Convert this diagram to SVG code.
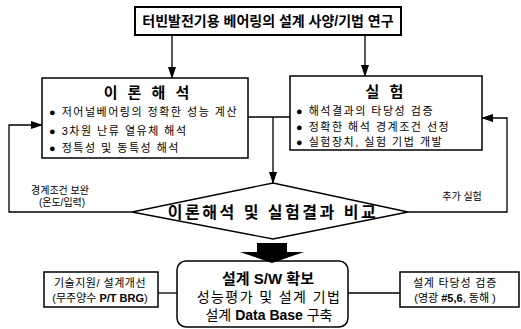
<svg xmlns="http://www.w3.org/2000/svg" width="521" height="329" viewBox="0 0 521 329">
<style>
text{font-family:"Liberation Sans","Noto Sans CJK KR",sans-serif;fill:#000;text-anchor:middle}
.box{fill:#fff;stroke:#000;stroke-width:1.5}
.t{font-size:11px;text-anchor:start;letter-spacing:1.5px}
.h{font-size:15px;font-weight:bold;letter-spacing:3px}
.ln{fill:none;stroke:#000;stroke-width:1.3}
.s{font-size:10px}
.b{font-weight:bold}
</style>
<defs>
<marker id="ah" markerWidth="12" markerHeight="8" refX="11" refY="4" orient="auto" markerUnits="userSpaceOnUse">
<path d="M0,0 L12,4 L0,8 Z" fill="#000"/>
</marker>
</defs>
<g id="top">
<rect x="135" y="7" width="266" height="28" fill="#fff" stroke="#000" stroke-width="2"/>
<text x="268" y="26" font-size="14" font-weight="bold">터빈발전기용 베어링의 설계 사양/기법 연구</text>
</g>
<g id="theory">
<rect class="box" x="42" y="78" width="206" height="80"/>
<text class="h" x="148" y="98">이 론 해 석</text>
<text class="t" x="49" y="116">● 저어널베어링의  정확한 성능 계산</text>
<text class="t" x="49" y="135">● 3차원 난류 열유체 해석</text>
<text class="t" x="49" y="152">● 정특성 및 동특성 해석</text>
</g>
<g id="experiment">
<rect class="box" x="290" y="76" width="192" height="74"/>
<text class="h" x="386" y="97">실 험</text>
<text class="t" x="296" y="115">● 해석결과의 타당성 검증</text>
<text class="t" x="296" y="131">● 정확한 해석 경계조건 선정</text>
<text class="t" x="296" y="146">● 실험장치, 실험 기법 개발</text>
</g>
<g id="compare">
<polygon points="132,212 273,183 408,212 273,239" fill="#fff" stroke="#000" stroke-width="1.3"/>
<text x="273" y="218" font-size="16" font-weight="bold" letter-spacing="2.5">이론해석 및 실험결과 비교</text>
</g>
<g id="software">
<rect class="box" x="177" y="261" width="171" height="66" rx="9"/>
<text x="268" y="284" font-size="15" class="b">설계 S/W 확보</text>
<text x="269" y="302" font-size="14" letter-spacing="1.4">성능평가 및 설계 기법</text>
<text x="269" y="320" font-size="14">설계 <tspan class="b">Data Base</tspan> 구축</text>
</g>
<g id="support">
<rect class="box" x="44" y="272" width="114" height="35"/>
<text x="100" y="287" font-size="11" letter-spacing="0.5">기술지원/ 설계개선</text>
<text x="100" y="302" font-size="11">(무주양수 <tspan class="b">P/T BRG</tspan>)</text>
</g>
<g id="verify">
<rect class="box" x="400" y="272" width="119" height="35"/>
<text x="455" y="287" font-size="11" letter-spacing="0.8">설계 타당성 검증</text>
<text x="455" y="302" font-size="11">(영광 <tspan class="b">#5,6</tspan>, 동해 )</text>
</g>
<g id="connectors">
<line class="ln" x1="172" y1="35" x2="172" y2="78" marker-end="url(#ah)"/>
<line class="ln" x1="365" y1="35" x2="365" y2="76" marker-end="url(#ah)"/>
<line class="ln" x1="248" y1="117" x2="290" y2="117"/>
<line class="ln" x1="273" y1="117" x2="273" y2="183" marker-end="url(#ah)"/>
<polyline class="ln" points="132,212 9,212 9,125 42,125" marker-end="url(#ah)"/>
<polyline class="ln" points="408,212 507,212 507,118 482,118" marker-end="url(#ah)"/>
<polygon points="257,243 287,243 287,252 304,252 272,263 240,252 257,252" fill="#000"/>
<line class="ln" x1="158" y1="293" x2="177" y2="293"/>
<line class="ln" x1="348" y1="293" x2="400" y2="293"/>
<text class="s" x="60" y="194">경계조건 보완</text>
<text class="s" x="62" y="206">(온도/입력)</text>
<text class="s" x="462" y="200">추가 실험</text>
</g>
</svg>
